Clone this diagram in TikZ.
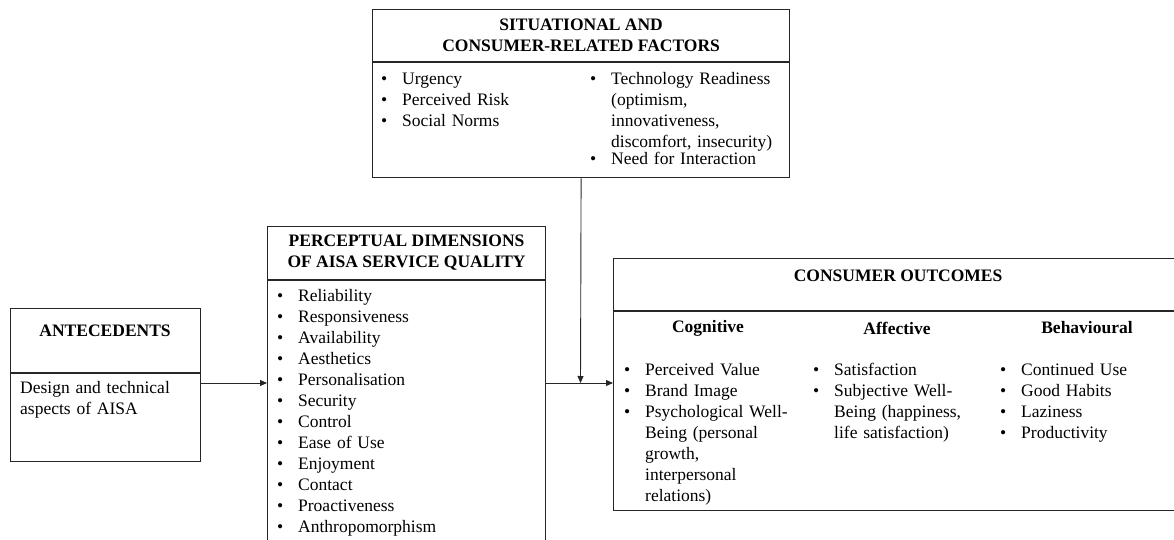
\documentclass[tikz,border=0pt]{standalone}
\usepackage{fontspec}
\setmainfont{Liberation Serif}
\usetikzlibrary{positioning,arrows.meta}
\newcommand{\itm}[1]{\par\noindent\makebox[21pt][l]{\textbullet}\parbox[t]{175pt}{\raggedright #1}}

\begin{document}
\begin{tikzpicture}[x=1pt, y=-1pt,
    every node/.style={font=\fontsize{17.5}{21}\selectfont},
    box/.style={draw=black!85, line width=1.2pt, inner sep=0pt},
    hdr/.style={box, align=center, font=\fontsize{17.5}{21}\selectfont\bfseries},
    lst/.style={anchor=north west, inner sep=0pt, align=left},
    sub/.style={font=\fontsize{17.5}{21}\selectfont\bfseries},
    arr/.style={-{Triangle[length=7pt, width=6pt]}, line width=0.9pt, black!85}
]
    \useasboundingbox (0,0) rectangle (1174,540);
    \clip (0,0) rectangle (1174,540);

    % Boxes
    \node[hdr, anchor=north west, minimum width=417pt, minimum height=52pt] (sitT) at (372,9) {SITUATIONAL AND\\CONSUMER-RELATED FACTORS};
    \node[box, below=0pt of sitT, minimum width=417pt, minimum height=115pt] (sitB) {};
    \node[hdr, anchor=north west, minimum width=190pt, minimum height=64pt, text depth=20pt] (antT) at (9.5,308) {ANTECEDENTS};
    \node[box, below=0pt of antT, minimum width=190pt, minimum height=88pt] (antB) {};
    \node[hdr, anchor=north west, minimum width=278pt, minimum height=53pt] (perT) at (267,226) {PERCEPTUAL DIMENSIONS\\OF AISA SERVICE QUALITY};
    \node[box, below=0pt of perT, minimum width=278pt, minimum height=290pt] (perB) {};
    \node[hdr, anchor=north west, minimum width=569pt, minimum height=52pt, text depth=18pt] (conT) at (613,258) {CONSUMER OUTCOMES};
    \node[box, below=0pt of conT, minimum width=569pt, minimum height=199pt] (conB) {};

    % Lists
    \node[lst, text width=200pt] (sitL) at (381,63) {\itm{Urgency}\itm{Perceived Risk}\itm{Social Norms}};
    \node[lst, text width=198pt] (sitR) at (590,63) {\itm{Technology Readiness\newline (optimism,\newline innovativeness,\newline discomfort, insecurity)}\itm{Need for Interaction}};
    \node[lst, text width=170pt] (antL) at (20,381) {Design and technical\\aspects of AISA};
    \node[lst, text width=260pt] (perL) at (277,280) {\itm{Reliability}\itm{Responsiveness}\itm{Availability}\itm{Aesthetics}\itm{Personalisation}\itm{Security}\itm{Control}\itm{Ease of Use}\itm{Enjoyment}\itm{Contact}\itm{Proactiveness}\itm{Anthropomorphism}};
    \node[lst, text width=198pt] (cogL) at (624,354) {\itm{Perceived Value}\itm{Brand Image}\itm{Psychological Well-\newline Being (personal\newline growth,\newline interpersonal\newline relations)}};
    \node[lst, text width=198pt] (affL) at (813,354) {\itm{Satisfaction}\itm{Subjective Well-\newline Being (happiness,\newline life satisfaction)}};
    \node[lst, text width=198pt] (behL) at (1000,354) {\itm{Continued Use}\itm{Good Habits}\itm{Laziness}\itm{Productivity}};

    % Column headings
    \node[sub] (cogH) at (708,328) {Cognitive};
    \node[sub] (affH) at (897,328) {Affective};
    \node[sub] (behH) at (1087,328) {Behavioural};

    % Arrows
    \coordinate (mid) at (580.5,383);
    \draw[arr] (antB.east |- mid) -- (perB.west |- mid);
    \draw[arr] (perB.east |- mid) -- (conB.west |- mid);
    \draw[arr] (sitB.south) -- (mid);
\end{tikzpicture}
\end{document}
